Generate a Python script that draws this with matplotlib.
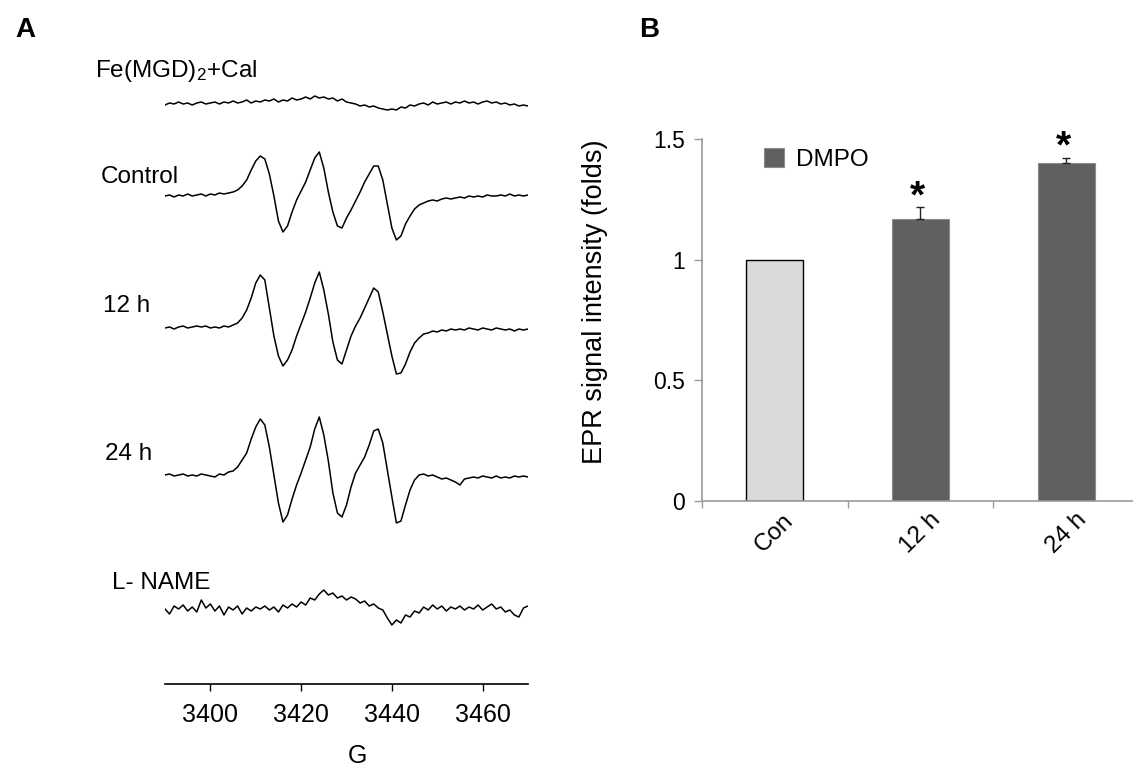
import numpy as np
import matplotlib
matplotlib.use("Agg")
import matplotlib.pyplot as plt

plt.rcParams['font.family'] = ['Liberation Sans', 'DejaVu Sans']
plt.rcParams['mathtext.default'] = 'regular'

# ---- panel A: EPR spectra (signal in px-like units, up = positive), 1 G steps from 3390 G
field = np.arange(3390, 3471)

fe_cal = [
    -1, 1, 0, 2, 0, 1, -1, 1, 2, 0,
    1, 2, 0, 2, 1, 3, 1, 2, 4, 1,
    3, 2, 4, 3, 5, 2, 4, 3, 6, 4,
    5, 7, 5, 8, 6, 7, 5, 6, 3, 5,
    2, 1, 0, -2, -1, -3, -2, -4, -5, -6,
    -5, -6, -3, -4, -1, -2, 0, 1, -1, 2,
    0, 1, 2, 0, 2, 1, 3, 1, 2, 0,
    2, 3, 1, 2, 0, 1, -1, 0, -2, -1,
    -2]

control = [
    0, 1, -1, 1, 0, 2, 0, 1, 2, 0,
    2, 1, 3, 2, 3, 4, 6, 10, 16, 26,
    35, 40, 37, 22, 0, -25, -36, -30, -16, -4,
    5, 14, 26, 38, 44, 28, 4, -16, -30, -32,
    -22, -14, -5, 4, 14, 22, 30, 30, 16, -8,
    -32, -44, -40, -28, -20, -13, -9, -7, -5, -4,
    -5, -3, -2, -3, -2, -1, -2, 0, -1, 0,
    -1, 1, 0, 0, 1, 0, 2, 0, 1, 0,
    1]

h12 = [
    0, 1, -1, 1, 2, 0, 1, 2, 1, 2,
    0, 1, 0, 2, 1, 3, 5, 10, 18, 30,
    45, 53, 48, 20, -8, -28, -38, -32, -22, -8,
    4, 16, 30, 45, 56, 38, 14, -14, -32, -36,
    -22, -8, 2, 10, 20, 30, 40, 36, 16, -6,
    -28, -46, -45, -36, -24, -15, -10, -6, -5, -3,
    -4, -2, -3, -1, -2, -1, -2, 0, -1, -2,
    0, -1, -2, 0, -1, -2, -1, -3, -1, -2,
    -1]

h24 = [
    0, 1, -1, 0, 1, -1, 0, -1, 1, 0,
    -1, -2, 1, 0, 3, 4, 8, 15, 22, 36,
    48, 56, 50, 28, 0, -28, -47, -40, -24, -10,
    2, 15, 28, 46, 58, 40, 14, -18, -38, -42,
    -30, -12, 2, 10, 18, 30, 44, 46, 32, 5,
    -22, -48, -46, -30, -15, -5, 0, 1, -1, 0,
    -2, -4, -3, -5, -7, -10, -4, -3, -2, -3,
    -1, -2, -3, -1, -3, -2, -3, -1, -2, -1,
    -2]

lname = [
    0, -5, 3, 0, 4, -2, 2, -3, 9, 1,
    5, -2, 3, -6, 2, -1, 3, -5, 1, -2,
    2, 0, 3, -1, 2, -3, 4, 1, 5, 2,
    7, 4, 11, 9, 15, 19, 14, 16, 11, 13,
    9, 12, 10, 6, 8, 3, 5, 1, -1, -9,
    -16, -11, -14, -6, -8, -2, -4, 2, -1, 4,
    0, 3, -2, 2, 0, 3, -1, 2, 0, 4,
    -1, 2, 5, 0, 2, -3, -1, -6, -8, 1,
    3]

trace_names = ['Fe(MGD)$_2$+Cal', 'Control', '12 h', '24 h', 'L- NAME']
traces = [fe_cal, control, h12, h24, lname]

# ---- panel B: bar chart
groups = ['Con', '12 h', '24 h']
fold = [1.0, 1.17, 1.40]
fold_err = [0.0, 0.047, 0.023]

W, H = 1133, 768
fig = plt.figure(figsize=(W / 100, H / 100), dpi=100)


def fx(x):
    return x / W


def fy(y):
    return 1 - y / H


# panel A axes (y axis in pixel rows for stacking)
axA = fig.add_axes([fx(165), fy(684), fx(528) - fx(165), fy(40) - fy(684)])
axA.set_xlim(3390, 3470)
axA.set_ylim(684, 40)
baselines = [104, 196, 328, 475, 609]
for vals, base in zip(traces, baselines):
    axA.plot(field, base - np.array(vals), color='black', lw=1.1)
for s in ['left', 'right', 'top']:
    axA.spines[s].set_visible(False)
axA.spines['bottom'].set_linewidth(1.2)
axA.set_yticks([])
axA.set_xticks([3400, 3420, 3440, 3460])
axA.tick_params(axis='x', direction='out', length=5, width=1, pad=9, labelsize=18)

label_pos = [(95, 71), (101, 177), (103, 306), (105, 454), (112, 583)]
for name, (lx, ly) in zip(trace_names, label_pos):
    fig.text(fx(lx), fy(ly), name, fontsize=17.5, ha='left', va='center')
fig.text(fx(357), fy(756), 'G', fontsize=18, ha='center', va='center')

# panel B axes
axB = fig.add_axes([fx(701.7), fy(500.7), 1 - fx(701.7), fy(139) - fy(500.7)])
xpos = np.arange(len(groups))
colors = ['#d9d9d9', '#606060', '#606060']
edges = ['black', '#8c8c8c', '#8c8c8c']
axB.bar(xpos[0], fold[0], width=0.39, color=colors[0], edgecolor=edges[0], lw=1.0, zorder=2)
bars = axB.bar(xpos[1:], fold[1:], width=0.39, color=colors[1], edgecolor=edges[1], lw=0.8,
               label='DMPO', zorder=2)
axB.errorbar(xpos[1:], fold[1:], yerr=[[0, 0], fold_err[1:]], fmt='none', ecolor='#222222',
             elinewidth=1, capsize=3, capthick=1, zorder=3)
for i in [1, 2]:
    axB.text(xpos[i] - 0.02, fold[i] + fold_err[i] + 0.04, '*', fontsize=28, fontweight='bold',
             ha='center', va='center')

axB.set_xlim(-0.5, 2.458)
axB.set_ylim(0, 1.5)
axB.set_yticks([0, 0.5, 1, 1.5])
axB.set_yticklabels(['0', '0.5', '1', '1.5'])
axB.set_xticks(xpos)
axB.set_xticklabels(groups, rotation=45, ha='center', va='top')
axB.set_xticks([-0.5, 0.5, 1.5], minor=True)
axB.tick_params(axis='x', which='major', length=0, pad=6, labelsize=17.5)
axB.tick_params(axis='x', which='minor', length=5, width=1, color='#999999', direction='out')
axB.tick_params(axis='y', length=6, width=1, color='#999999', direction='out', pad=6, labelsize=16.5)
for s in ['right', 'top']:
    axB.spines[s].set_visible(False)
for s in ['left', 'bottom']:
    axB.spines[s].set_color('#999999')
    axB.spines[s].set_linewidth(1.2)
axB.set_ylabel('EPR signal intensity (folds)', fontsize=19.5)
axB.yaxis.set_label_coords(-0.217, 0.55)

axB.legend(handles=[bars[0]], labels=['DMPO'], loc='upper left', bbox_to_anchor=(0.145, 0.975),
           frameon=False, fontsize=17.5, handlelength=0.8, handleheight=0.8, handletextpad=0.5,
           borderpad=0, borderaxespad=0)

fig.text(fx(25), fy(30), 'A', fontsize=20, fontweight='bold', ha='center', va='center')
fig.text(fx(649), fy(30), 'B', fontsize=20, fontweight='bold', ha='center', va='center')

fig.savefig('out.png', dpi=100)
